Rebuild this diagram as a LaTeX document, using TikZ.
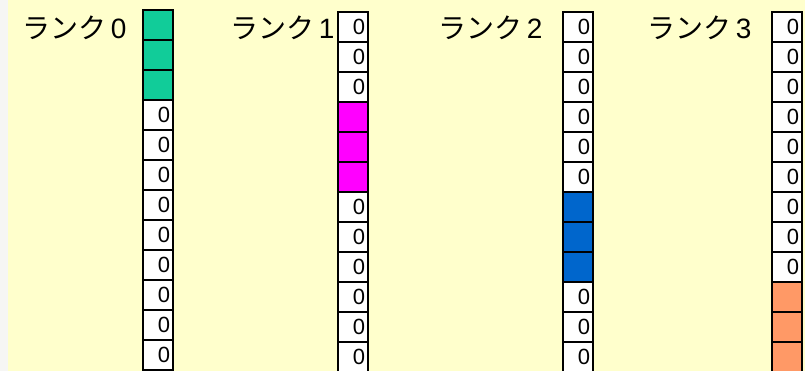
\documentclass[tikz,border=0pt]{standalone}
\usepackage{fontspec}
\setmainfont{Liberation Sans}
\newfontfamily\jpfont{Noto Sans CJK JP}
\definecolor{bgyellow}{HTML}{FFFFCC}
\definecolor{stripgray}{HTML}{F6F6F4}
\definecolor{cteal}{HTML}{11CC99}
\definecolor{cmag}{HTML}{FF00FF}
\definecolor{cblue}{HTML}{0066CC}
\definecolor{corange}{HTML}{FF9966}
\tikzset{
  cell/.style={draw=black, line width=1.8pt, fill=white, minimum width=30pt, minimum height=30pt,
    text width=24pt, align=right, inner xsep=3pt, inner ysep=0pt, font=\fontsize{22}{22}\selectfont},
  rlabel/.style={anchor=west, inner sep=0pt, font=\fontsize{28}{28}\selectfont}
}
\newcommand{\rankname}[1]{{\jpfont ランク}\,#1}
\begin{document}
\begin{tikzpicture}[x=1pt,y=-1pt]
\useasboundingbox (0,0) rectangle (805,371);
\fill[bgyellow] (0,0) rectangle (805,371);
\fill[stripgray] (0,0) rectangle (8,371);
% labels
\node[rlabel] (l0) at (22,28) {\rankname{0}};
\node[rlabel] (l1) at (230,28) {\rankname{1}};
\node[rlabel] (l2) at (438,28) {\rankname{2}};
\node[rlabel] (l3) at (647,28) {\rankname{3}};
% columns: index / x center / top / color / first colored row
\foreach \c/\x/\t/\col/\f in {0/158/10/cteal/0, 1/353/12/cmag/3, 2/578/12/cblue/6, 3/787/12/corange/9}{
  \foreach \r in {0,...,11}{
    \pgfmathtruncatemacro{\inside}{(\r>=\f) && (\r<\f+3) ? 1 : 0}
    \ifnum\inside=1
      \node[cell, fill=\col] (c\c-\r) at (\x,\t+15+30*\r) {};
    \else
      \node[cell] (c\c-\r) at (\x,\t+15+30*\r) {0};
    \fi
  }
}
\end{tikzpicture}
\end{document}
